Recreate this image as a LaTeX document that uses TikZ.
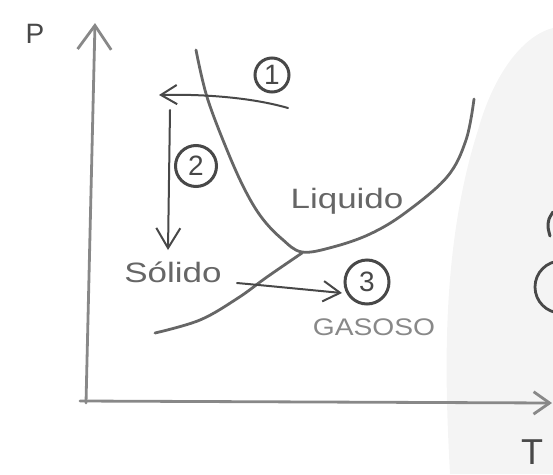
\documentclass[tikz,border=0pt]{standalone}
\usepackage{fontspec}
\setmainfont{Liberation Sans}
\usetikzlibrary{arrows.meta}

\definecolor{pencil}{HTML}{666666}
\definecolor{pencilDark}{HTML}{484848}
\definecolor{pencilLight}{HTML}{888888}
\definecolor{paperShade}{HTML}{F4F4F4}

\tikzset{
  axisline/.style={draw=pencilLight, line width=2.8pt, line cap=round,
    -{Straight Barb[length=#1, width=1.4*#1, line width=2.8pt]}},
  phaseline/.style={draw=pencil, line width=2.8pt, line cap=round, line join=round},
  procarrow/.style={draw=pencilDark, line width=2pt, line cap=round,
    -{Straight Barb[length=#1, width=1.2*#1, line width=2pt]}},
  stepcircle/.style={circle, draw=pencilDark, line width=3pt,
    minimum size=38pt, inner sep=0pt, text=pencilDark, font=\fontsize{28}{28}\selectfont},
  phaselabel/.style={text=pencil, xscale=1.25, font=\fontsize{28}{28}\selectfont},
}

\begin{document}
\begin{tikzpicture}[x=1pt, y=-1pt]
  \useasboundingbox (0,0) rectangle (553,474);

  % shaded paper on the right
  \fill[paperShade] (450,474) .. controls (445,380) and (440,250) .. (478,130)
    .. controls (495,70) and (525,35) .. (553,28) -- (553,474) -- cycle;

  % partial marks at the right margin
  \begin{scope}
    \clip (0,0) rectangle (553,474);
    \draw[pencilDark, line width=3pt, line cap=round] plot[smooth] coordinates {(553,212) (549,219) (548,227) (550,236)};
    \draw[pencilDark, line width=2.8pt] (561,287) circle[radius=26];
  \end{scope}

  % axes
  \coordinate (origin) at (86,403);
  \coordinate (ptop) at (95,23);
  \coordinate (xstart) at (80,401);
  \coordinate (tright) at (552,403);
  \draw[axisline=24pt] (origin) -- (ptop);
  \draw[axisline=16pt] (xstart) -- (tright);
  \node[text=pencilDark, font=\fontsize{28}{28}\selectfont] (plabel) at (35,34) {P};
  \node[text=pencilDark, font=\fontsize{36}{36}\selectfont] (tlabel) at (532,452) {T};

  % fusion and vaporization curves meeting at the triple point
  \draw[phaseline] plot[smooth, tension=0.6] coordinates {
    (196,50) (207,97) (227,150) (245,190) (262,218) (282,239) (302,252)
    (333,247) (370,234) (405,213) (447,177) (466,140) (474,99)};
  % sublimation curve
  \draw[phaseline] plot[smooth, tension=0.6] coordinates {
    (302,253) (267,277) (238,298) (200,320) (155,333)};

  % phase labels
  \node[phaselabel] (liquido) at (347,201) {Liquido};
  \node[phaselabel] (solido) at (173,272) {Sólido};
  \node[phaselabel, text=pencilLight, xscale=0.94, font=\fontsize{24}{24}\selectfont] (gasoso) at (374,327) {GASOSO};

  % step markers
  \node[stepcircle, minimum size=34pt] (c1) at (272,75) {1};
  \node[stepcircle, minimum size=41pt] (c2) at (196,166) {2};
  \node[stepcircle, minimum size=44pt] (c3) at (367,282) {3};

  % transformations
  \coordinate (a1s) at (288,108);
  \coordinate (a1e) at (159,95);
  \draw[procarrow=16pt] (a1s) .. controls (250,97) and (200,94) .. (a1e);
  \coordinate (a2s) at (170,110);
  \coordinate (a2e) at (168,250);
  \draw[procarrow=20pt] (a2s) -- (a2e);
  \coordinate (a3s) at (237,283);
  \coordinate (a3e) at (342,293);
  \draw[procarrow=17pt] (a3s) .. controls (270,286) and (310,290) .. (a3e);
\end{tikzpicture}
\end{document}
